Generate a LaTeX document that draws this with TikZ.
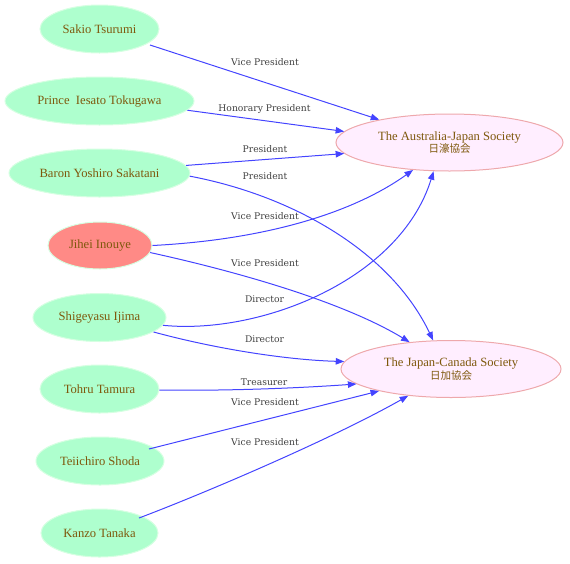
\documentclass[tikz,border=0pt]{standalone}
\usepackage{fontspec}
\setmainfont{Liberation Serif}
\newfontfamily\lblfont{DejaVu Serif}
\newfontfamily\cjkfont{Noto Sans CJK JP}
\usetikzlibrary{shapes.geometric,arrows.meta,calc}
\definecolor{mint}{HTML}{AEFFCE}
\definecolor{mintline}{HTML}{D6FFE2}
\definecolor{salmon}{HTML}{FF8A86}
\definecolor{pinkfill}{HTML}{FFEEFF}
\definecolor{pinkline}{HTML}{EEA8AC}
\definecolor{txtbrown}{HTML}{7E580C}
\definecolor{edgeblue}{HTML}{4444FF}
\definecolor{lblgrey}{HTML}{404040}
\tikzset{
  person/.style={ellipse, draw=mintline, fill=mint, line width=1pt, inner sep=0pt,
    minimum height=48pt, text=txtbrown, font=\fontsize{12.6}{13}\selectfont},
  society/.style={ellipse, draw=pinkline, fill=pinkfill, line width=1pt, inner sep=0pt,
    minimum height=57pt, text=txtbrown, align=center, font=\fontsize{12.6}{13}\selectfont},
  rel/.style={draw=edgeblue, line width=1pt, -{Triangle[length=8.5pt,width=6.5pt]}},
  lbl/.style={text=lblgrey, inner sep=0pt, font=\lblfont\fontsize{9.2}{10}\selectfont},
}
\begin{document}
\begin{tikzpicture}[x=1pt,y=-1pt]
\useasboundingbox (0,0) rectangle (570,563);
% people
\node[person, minimum width=119pt] (sakio) at (99.5,29) {Sakio Tsurumi};
\node[person, minimum width=189pt] (tokugawa) at (99.5,101) {Prince\ \ Iesato Tokugawa};
\node[person, minimum width=181pt] (sakatani) at (99.5,173) {Baron Yoshiro Sakatani};
\node[person, fill=salmon, minimum width=104pt, minimum height=47pt] (jihei) at (100,245.5) {Jihei Inouye};
\node[person, minimum width=133pt] (ijima) at (99.5,317.5) {Shigeyasu Ijima};
\node[person, minimum width=119pt] (tamura) at (99.5,389) {Tohru Tamura};
\node[person, minimum width=128pt] (shoda) at (100,461) {Teiichiro Shoda};
\node[person, minimum width=117pt] (tanaka) at (99.5,533) {Kanzo Tanaka};
% societies
\node[society, minimum width=227pt] (aj) at (449.5,142.5)
  {The Australia-Japan Society\\[-0.5pt]{\cjkfont\fontsize{10.5}{13}\selectfont 日濠協会}};
\node[society, minimum width=220pt] (jc) at (451,369)
  {The Japan-Canada Society\\[-0.5pt]{\cjkfont\fontsize{10.5}{13}\selectfont 日加協会}};
% edges
\draw[rel] ($(sakio)+(50.5,16)$) -- (aj.162.1);
\draw[rel] (tokugawa.-6.9) -- (aj.174.1);
\draw[rel] (sakatani.5) -- (aj.-174.9);
\draw[rel] (sakatani.-2.5) .. controls (290,195) and (390,250) .. (jc.122.7);
\draw[rel] (jihei.0.6) .. controls (260,240) and (350,215) .. (aj.-143);
\draw[rel] (jihei.-8.2) .. controls (230,270) and (340,300) .. (jc.147.9);
\draw[rel] (ijima.-7.5) .. controls (260,335) and (400,280) .. (aj.-119.2);
\draw[rel] (ijima.-15.1) .. controls (220,350) and (290,360) .. (jc.176.2);
\draw[rel] (tamura.-1) .. controls (230,391) and (300,388) .. (jc.-171.5);
\draw[rel] ($(shoda)+(49,-12)$) -- (jc.-163.4);
\draw[rel] ($(tanaka)+(39.5,-15)$) .. controls (200,495) and (330,440) .. (jc.-148.8);
% labels
\node[lbl] (l1) at (265,62) {Vice President};
\node[lbl] (l2) at (264.5,109) {Honorary President};
\node[lbl] (l3) at (265,149) {President};
\node[lbl] (l4) at (265,176) {President};
\node[lbl] (l5) at (265,216) {Vice President};
\node[lbl] (l6) at (265,263) {Vice President};
\node[lbl] (l7) at (264.5,299) {Director};
\node[lbl] (l8) at (264.5,339.5) {Director};
\node[lbl] (l9) at (264,382) {Treasurer};
\node[lbl] (l10) at (265,402) {Vice President};
\node[lbl] (l11) at (265,442) {Vice President};
\end{tikzpicture}
\end{document}
